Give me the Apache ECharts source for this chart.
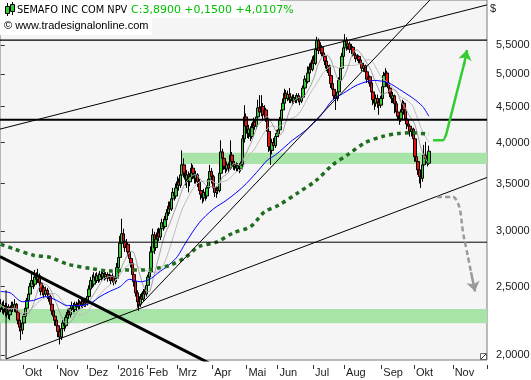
<!DOCTYPE html>
<html><head><meta charset="utf-8">
<script src="https://cdn.jsdelivr.net/npm/echarts@6/dist/echarts.min.js"></script>
<style>html,body{margin:0;padding:0;background:#fff}#c{width:531px;height:380px}</style>
</head><body><div id="c"></div>
<script>
// ---- data ----
const N = 314; // trading-day slots on the axis (incl. empty future)
const monthTicks = [[15,'Okt'],[37,'Nov'],[56,'Dez'],[76,'2016'],[95,'Feb'],[114,'Mrz'],[137,'Apr'],[159,'Mai'],[179,'Jun'],[202,'Jul'],[222,'Aug'],[246,'Sep'],[267,'Okt'],[292,'Nov']];
const priceTicks = [2.0,2.5,3.0,3.5,4.0,4.5,5.0,5.5];
const priceTickLabels = ['2,0000','2,5000','3,0000','3,5000','4,0000','4,5000','5,0000','5,5000'];
const yRange = [1.9675, 6.371];

const opens = [
2.33,2.36,2.32,2.35,2.30,2.34,2.28,2.31,2.35,2.33,
2.36,2.30,2.24,2.19,2.17,2.22,2.27,2.33,2.39,2.44,
2.50,2.55,2.52,2.58,2.56,2.59,2.53,2.46,2.49,2.44,
2.47,2.44,2.42,2.36,2.31,2.27,2.24,2.20,2.16,2.12,
2.18,2.22,2.20,2.26,2.30,2.28,2.33,2.35,2.32,2.36,
2.34,2.37,2.35,2.38,2.36,2.39,2.37,2.42,2.48,2.55,
2.52,2.58,2.55,2.59,2.56,2.60,2.58,2.61,2.58,2.60,
2.57,2.59,2.55,2.58,2.54,2.57,2.66,2.75,2.88,2.97,
2.90,2.84,2.87,2.80,2.74,2.70,2.60,2.54,2.45,2.38,
2.36,2.42,2.40,2.46,2.44,2.51,2.58,2.62,2.80,2.96,
2.84,2.92,2.98,2.94,3.02,3.08,3.04,3.11,3.18,3.25,
3.22,3.33,3.40,3.36,3.45,3.52,3.48,3.60,3.72,3.62,
3.55,3.60,3.52,3.58,3.68,3.62,3.56,3.60,3.52,3.42,
3.38,3.34,3.40,3.36,3.45,3.55,3.64,3.58,3.45,3.40,
3.44,3.42,3.62,3.88,3.80,3.70,3.67,3.72,3.68,3.84,
3.76,3.70,3.72,3.68,3.71,3.67,3.72,4.05,4.35,4.22,
4.12,4.18,4.08,4.20,4.28,4.22,4.35,4.48,4.42,4.50,
4.38,4.45,4.33,4.15,3.95,3.90,4.00,3.96,4.08,4.12,
4.17,4.30,4.45,4.55,4.70,4.62,4.68,4.60,4.64,4.58,
4.63,4.60,4.66,4.62,4.58,4.64,4.78,4.92,4.88,5.02,
5.12,5.08,5.24,5.18,5.42,5.58,5.40,5.46,5.36,5.30,
5.22,5.10,5.14,4.98,4.85,4.76,4.66,4.62,4.72,4.90,
5.10,5.30,5.45,5.58,5.48,5.52,5.42,5.46,5.36,5.32,
5.26,5.30,5.24,5.18,5.10,5.14,5.04,4.92,4.96,4.86,
4.72,4.60,4.55,4.62,4.56,4.52,4.62,4.80,4.98,5.02,
4.86,4.78,4.70,4.62,4.66,4.54,4.42,4.36,4.32,4.42,
4.55,4.45,4.32,4.25,4.22,4.15,4.18,4.05,3.82,3.76,
3.66,3.58,3.56,3.72,3.84,3.80,3.74];
const closes = [
2.36,2.32,2.35,2.30,2.34,2.28,2.31,2.35,2.33,2.36,
2.30,2.24,2.19,2.17,2.22,2.27,2.33,2.39,2.44,2.50,
2.55,2.52,2.58,2.56,2.59,2.53,2.46,2.49,2.44,2.47,
2.44,2.42,2.36,2.31,2.27,2.24,2.20,2.16,2.12,2.18,
2.22,2.20,2.26,2.30,2.28,2.33,2.35,2.32,2.36,2.34,
2.37,2.35,2.38,2.36,2.39,2.37,2.42,2.48,2.55,2.52,
2.58,2.55,2.59,2.56,2.60,2.58,2.61,2.58,2.60,2.57,
2.59,2.55,2.58,2.54,2.57,2.66,2.75,2.88,2.97,2.90,
2.84,2.87,2.80,2.74,2.70,2.60,2.54,2.45,2.38,2.36,
2.42,2.40,2.46,2.44,2.51,2.58,2.62,2.80,2.96,2.84,
2.92,2.98,2.94,3.02,3.08,3.04,3.11,3.18,3.25,3.22,
3.33,3.40,3.36,3.45,3.52,3.48,3.60,3.72,3.62,3.55,
3.60,3.52,3.58,3.68,3.62,3.56,3.60,3.52,3.42,3.38,
3.34,3.40,3.36,3.45,3.55,3.64,3.58,3.45,3.40,3.44,
3.42,3.62,3.88,3.80,3.70,3.67,3.72,3.68,3.84,3.76,
3.70,3.72,3.68,3.71,3.67,3.72,4.05,4.35,4.22,4.12,
4.18,4.08,4.20,4.28,4.22,4.35,4.48,4.42,4.50,4.38,
4.45,4.33,4.15,3.95,3.90,4.00,3.96,4.08,4.12,4.17,
4.30,4.45,4.55,4.70,4.62,4.68,4.60,4.64,4.58,4.63,
4.60,4.66,4.62,4.58,4.64,4.78,4.92,4.88,5.02,5.12,
5.08,5.24,5.18,5.42,5.58,5.40,5.46,5.36,5.30,5.22,
5.10,5.14,4.98,4.85,4.76,4.66,4.62,4.72,4.90,5.10,
5.30,5.45,5.58,5.48,5.52,5.42,5.46,5.36,5.32,5.26,
5.30,5.24,5.18,5.10,5.14,5.04,4.92,4.96,4.86,4.72,
4.60,4.55,4.62,4.56,4.52,4.62,4.80,4.98,5.02,4.86,
4.78,4.70,4.62,4.66,4.54,4.42,4.36,4.32,4.42,4.55,
4.45,4.32,4.25,4.22,4.15,4.18,4.05,3.82,3.76,3.66,
3.58,3.56,3.72,3.84,3.80,3.74,3.89];
const lows = [
2.30,2.29,2.28,2.27,2.26,2.25,2.24,2.28,2.30,2.30,
2.27,2.21,2.16,2.10,2.14,2.19,2.25,2.31,2.36,2.41,
2.47,2.48,2.50,2.52,2.53,2.50,2.43,2.43,2.41,2.42,
2.40,2.38,2.33,2.28,2.24,2.20,2.17,2.12,2.07,2.10,
2.15,2.16,2.18,2.23,2.25,2.26,2.30,2.29,2.30,2.31,
2.32,2.32,2.33,2.33,2.34,2.34,2.35,2.40,2.46,2.49,
2.50,2.52,2.53,2.53,2.54,2.55,2.56,2.55,2.56,2.54,
2.55,2.52,2.53,2.51,2.52,2.55,2.63,2.72,2.84,2.86,
2.80,2.81,2.76,2.70,2.66,2.57,2.50,2.42,2.34,2.31,
2.34,2.37,2.38,2.41,2.42,2.49,2.55,2.60,2.77,2.78,
2.81,2.88,2.90,2.91,2.98,3.00,3.02,3.08,3.15,3.17,
3.20,3.29,3.31,3.33,3.40,3.42,3.45,3.56,3.57,3.48,
3.45,3.40,3.47,3.52,3.55,3.50,3.50,3.46,3.38,3.32,
3.28,3.30,3.31,3.33,3.42,3.51,3.50,3.40,3.35,3.34,
3.38,3.40,3.58,3.72,3.66,3.62,3.64,3.63,3.66,3.70,
3.66,3.65,3.64,3.64,3.62,3.64,3.70,4.00,4.15,4.06,
4.05,4.02,4.05,4.15,4.17,4.18,4.30,4.36,4.36,4.32,
4.31,4.28,4.10,3.88,3.72,3.85,3.90,3.93,4.03,4.07,
4.12,4.25,4.40,4.52,4.55,4.58,4.55,4.55,4.52,4.54,
4.55,4.55,4.56,4.52,4.55,4.60,4.74,4.82,4.85,4.97,
5.02,5.05,5.10,5.15,5.35,5.34,5.34,5.30,5.24,5.15,
5.05,5.02,4.92,4.78,4.70,4.60,4.45,4.58,4.68,4.85,
5.05,5.22,5.40,5.40,5.42,5.36,5.34,5.30,5.26,5.20,
5.22,5.18,5.12,5.05,5.04,4.98,4.86,4.85,4.80,4.65,
4.52,4.45,4.50,4.48,4.38,4.48,4.58,4.75,4.92,4.80,
4.70,4.64,4.55,4.55,4.40,4.36,4.30,4.24,4.28,4.38,
4.38,4.26,4.18,4.16,4.08,4.08,3.98,3.76,3.70,3.60,
3.50,3.45,3.52,3.68,3.74,3.70,3.72];
const highs = [
2.40,2.38,2.39,2.37,2.37,2.36,2.34,2.38,2.38,2.40,
2.37,2.31,2.25,2.22,2.24,2.29,2.35,2.41,2.47,2.53,
2.62,2.58,2.64,2.62,2.65,2.61,2.55,2.52,2.51,2.50,
2.49,2.47,2.43,2.38,2.33,2.29,2.26,2.22,2.19,2.20,
2.24,2.25,2.28,2.32,2.33,2.35,2.38,2.37,2.38,2.38,
2.40,2.39,2.40,2.40,2.41,2.41,2.44,2.51,2.58,2.60,
2.62,2.61,2.62,2.61,2.63,2.63,2.64,2.63,2.62,2.62,
2.61,2.60,2.61,2.59,2.59,2.70,2.80,2.95,3.12,3.02,
2.94,2.92,2.89,2.82,2.76,2.72,2.63,2.56,2.47,2.41,
2.44,2.45,2.48,2.49,2.53,2.60,2.65,2.85,3.02,2.99,
2.96,3.02,3.03,3.06,3.12,3.12,3.15,3.22,3.30,3.30,
3.38,3.45,3.44,3.50,3.58,3.56,3.66,3.90,3.80,3.66,
3.66,3.64,3.62,3.74,3.72,3.66,3.65,3.62,3.55,3.46,
3.42,3.44,3.43,3.48,3.58,3.72,3.68,3.60,3.48,3.47,
3.46,3.68,4.03,3.92,3.82,3.74,3.76,3.75,4.03,3.88,
3.78,3.76,3.75,3.74,3.74,3.76,4.10,4.52,4.40,4.28,
4.24,4.22,4.26,4.34,4.32,4.42,4.60,4.67,4.67,4.55,
4.52,4.48,4.36,4.18,4.00,4.05,4.06,4.12,4.17,4.22,
4.35,4.50,4.62,4.77,4.75,4.74,4.78,4.70,4.68,4.68,
4.67,4.70,4.70,4.66,4.68,4.82,4.98,4.98,5.13,5.18,
5.20,5.30,5.32,5.50,5.65,5.62,5.55,5.50,5.40,5.34,
5.26,5.20,5.16,5.02,4.90,4.82,4.72,4.78,4.95,5.15,
5.36,5.50,5.70,5.64,5.60,5.56,5.52,5.48,5.42,5.35,
5.34,5.32,5.28,5.22,5.18,5.16,5.06,5.00,4.98,4.90,
4.76,4.66,4.68,4.68,4.62,4.66,4.84,5.04,5.10,5.06,
4.92,4.82,4.75,4.72,4.68,4.58,4.48,4.40,4.46,4.60,
4.58,4.48,4.36,4.30,4.25,4.22,4.20,4.08,3.86,3.80,
3.70,3.64,3.76,3.97,4.01,3.86,3.96];

// moving averages (day slot, price)
const ma50Idx = [0,6,14,21,29,36,43,51,58,64,70,77,83,90,96,101,109,114,119,128,137,146,156,165,172,177,188,197,206,214,221,230,241,250,257,266,272,276];
const ma50Val = [2.46,2.45,2.38,2.39,2.42,2.39,2.35,2.35,2.37,2.42,2.46,2.50,2.56,2.54,2.56,2.61,2.69,2.76,2.88,3.08,3.22,3.32,3.46,3.63,3.78,3.84,4.03,4.17,4.36,4.60,4.70,4.83,4.90,4.86,4.76,4.62,4.50,4.36];
const ma200Idx = [0,8,21,32,43,59,70,83,93,103,109,119,128,139,150,161,170,179,192,203,214,224,235,246,256,265,276];
const ma200Val = [2.87,2.83,2.77,2.75,2.69,2.65,2.63,2.64,2.64,2.66,2.68,2.75,2.85,2.89,2.98,3.04,3.19,3.26,3.40,3.53,3.72,3.85,4.00,4.08,4.12,4.13,4.11];

// horizontal levels and zones
const hLevels = [5.59, 4.31, 2.89];
const zoneUpper = {from: 116.8, lo: 3.73, hi: 3.87};
const zoneLower = {lo: 2.218, hi: 2.324};

// drawn trend lines (day slot, price)
const trendUpper = [[-0.5, 4.18], [313.5, 6.27]];
const trendLower = [[3.4, 1.974], [313.5, 3.57]];
const trendVert = [[3.4, 2.47], [3.4, 1.974]];
const trendDown = [[-0.5, 2.758], [141.3, 1.913]];
const trendSteep = [[87.8, 2.328], [276.7, 6.371]];

// scenario arrows
const arrowUpPath = [[278.7, 4.03], [285.1, 4.03], [287.0, 4.10], [288.3, 4.20], [299.0, 5.20]];
const arrowUpHead = [[298.6, 5.15], [300.6, 5.41]];
const arrowDownPath = [[281.3, 3.35], [291.6, 3.35], [294.2, 3.30], [296.1, 3.21], [298.0, 2.99], [300.0, 2.84], [301.9, 2.71], [303.2, 2.62]];
const arrowDownHead = [[303.2, 2.62], [305.8, 2.46]];

// ---- build ----
const L = Math.log;
const P = (pts) => pts.map(p => [p[0], L(p[1])]);
const cats = Array.from({length: N}, (_, i) => 'd' + i);
const tickSet = new Set(monthTicks.map(m => m[0]));
const labelMap = {}; monthTicks.forEach(m => labelMap[m[0]] = m[1]);
const candles = closes.map((c, i) => [L(opens[i]), L(c), L(lows[i]), L(highs[i])]);
function sma(arr, n) {
  return arr.map((_, i) => { const s = Math.max(0, i - n + 1); let t = 0; for (let k = s; k <= i; k++) t += arr[k]; return L(t / (i - s + 1)); });
}
const FONT = 'Liberation Sans';
const thinLine = (data, color, width, z, extra) => Object.assign({
  type: 'line', xAxisIndex: 1, yAxisIndex: 0, data: P(data), showSymbol: false, symbol: 'none', silent: true,
  lineStyle: {color: color, width: width}, z: z, animation: false
}, extra || {});
// arrow head drawn as a markLine end symbol on a line series
const headSeries = (pts, color) => ({
  type: 'line', xAxisIndex: 1, yAxisIndex: 0, data: [], silent: true, z: 5,
  markLine: { silent: true, symbol: ['none', 'arrow'], symbolSize: 10, label: {show: false},
    lineStyle: {color: color, width: 2.5, type: 'solid'},
    data: [[{coord: [pts[0][0], L(pts[0][1])]}, {coord: [pts[1][0], L(pts[1][1])]}]] }
});

const series = [
  { type: 'line', xAxisIndex: 1, data: [[0, L(3.8)]], showSymbol: false, symbol: 'none', silent: true, z: 1,
    lineStyle: {opacity: 0},
    markArea: { silent: true, itemStyle: {color: '#a8e4a8'}, label: {show: false},
      data: [
        [{xAxis: zoneUpper.from, yAxis: L(zoneUpper.hi)}, {xAxis: N - 0.5, yAxis: L(zoneUpper.lo)}],
        [{xAxis: -0.5, yAxis: L(zoneLower.hi)}, {xAxis: N - 0.5, yAxis: L(zoneLower.lo)}]
      ] } },
  { type: 'candlestick', xAxisIndex: 0, data: candles, barWidth: 3, z: 2, silent: true,
    itemStyle: {color: '#33cc33', color0: '#ee1111', borderColor: '#000', borderColor0: '#000', borderWidth: 1} },
  { type: 'line', xAxisIndex: 0, data: sma(closes, 20), showSymbol: false, symbol: 'none', silent: true, z: 3,
    lineStyle: {color: '#bdbdbd', width: 1} },
  { type: 'line', xAxisIndex: 0, data: sma(closes, 10), showSymbol: false, symbol: 'none', silent: true, z: 3,
    lineStyle: {color: '#a0a0a0', width: 1} },
  { type: 'line', xAxisIndex: 1, data: ma50Idx.map((x, k) => [x, L(ma50Val[k])]), smooth: 0.3, showSymbol: false, symbol: 'none', silent: true, z: 3,
    lineStyle: {color: '#0000ff', width: 1} },
  { type: 'line', xAxisIndex: 1, data: ma200Idx.map((x, k) => [x, L(ma200Val[k])]), smooth: 0.3, showSymbol: false, symbol: 'none', silent: true, z: 3,
    lineStyle: {color: '#1f6e1f', width: 3.5, type: [4, 4]} },
  thinLine([[-0.5, hLevels[0]], [N - 0.5, hLevels[0]]], '#000', 1.3, 4),
  thinLine([[-0.5, hLevels[1]], [N - 0.5, hLevels[1]]], '#000', 2.2, 4),
  thinLine([[-0.5, hLevels[2]], [N - 0.5, hLevels[2]]], '#000', 1, 4),
  thinLine(trendUpper, '#000', 1, 4),
  thinLine(trendLower, '#000', 1, 4),
  thinLine(trendVert, '#000', 1, 4),
  thinLine(trendDown, '#000', 3, 4),
  thinLine(trendSteep, '#000', 1, 4),
  thinLine(arrowUpPath, '#33cc33', 2.5, 5, {smooth: 0.2}),
  headSeries(arrowUpHead, '#33cc33'),
  thinLine(arrowDownPath, '#9a9a9a', 2.5, 5, {smooth: 0.4, lineStyle: {color: '#9a9a9a', width: 2.5, type: [5, 3]}}),
  headSeries(arrowDownHead, '#9a9a9a')
];

const header = [
  {type: 'rect', z: 100, shape: {x: 0, y: 0, width: 280, height: 18}, style: {fill: '#ffffff'}},
  {type: 'rect', z: 100, shape: {x: 0, y: 18, width: 152, height: 17}, style: {fill: '#ffffff'}},
  {type: 'line', z: 101, shape: {x1: 7.5, y1: 3, x2: 7.5, y2: 16}, style: {stroke: '#000', lineWidth: 1}},
  {type: 'rect', z: 102, shape: {x: 5.5, y: 6.5, width: 4, height: 7}, style: {fill: '#33cc33', stroke: '#000', lineWidth: 1}},
  {type: 'line', z: 101, shape: {x1: 12.5, y1: 2, x2: 12.5, y2: 15}, style: {stroke: '#000', lineWidth: 1}},
  {type: 'rect', z: 102, shape: {x: 10.5, y: 4.5, width: 4, height: 7}, style: {fill: '#33cc33', stroke: '#000', lineWidth: 1}},
  {type: 'text', z: 103, x: 17, y: 10, style: {text: 'SEMAFO INC COM NPV', font: '9.8px "DejaVu Sans"', fill: '#000', verticalAlign: 'middle'}},
  {type: 'text', z: 103, x: 131, y: 10, style: {text: 'C:3,8900 +0,1500 +4,0107%', font: '11px "DejaVu Sans"', fill: '#00c000', verticalAlign: 'middle'}},
  {type: 'text', z: 103, x: 4, y: 26, style: {text: '\u00a9 www.tradesignalonline.com', font: '11px "Liberation Sans"', fill: '#000', verticalAlign: 'middle'}},
  {type: 'text', z: 103, x: 490, y: 9, style: {text: '$', font: '11px "Liberation Sans"', fill: '#222', verticalAlign: 'middle'}},
  {type: 'rect', z: 103, shape: {x: 480.5, y: 353.5, width: 6, height: 6}, style: {fill: '#fff', stroke: '#666', lineWidth: 1}},
  {type: 'line', z: 104, shape: {x1: 481, y1: 359, x2: 486, y2: 354}, style: {stroke: '#333', lineWidth: 1}}
];

const option = {
  animation: false,
  backgroundColor: '#ffffff',
  grid: {left: 0, right: 44, top: 0, bottom: 20, show: true, backgroundColor: '#f5f5f5', borderColor: '#7a7a7a', borderWidth: 1},
  xAxis: [
    { type: 'category', data: cats, boundaryGap: true, offset: 5,
      axisLine: {show: false},
      axisTick: {show: true, interval: (i) => tickSet.has(i), length: 4, lineStyle: {color: '#333'}},
      axisLabel: {interval: (i) => tickSet.has(i), formatter: (v, i) => labelMap[i] || '', align: 'left', margin: 2,
        padding: [0, 0, 0, 1], color: '#1a1a1a', fontFamily: FONT, fontSize: 11},
      splitLine: {show: false} },
    { type: 'value', min: -0.5, max: N - 0.5, show: false }
  ],
  yAxis: {
    type: 'value', position: 'right', min: L(yRange[0]), max: L(yRange[1]),
    axisLine: {show: false}, splitLine: {show: false},
    axisTick: {show: true, length: 4, lineStyle: {color: '#333'}, customValues: priceTicks.map(L)},
    axisLabel: {show: false}
  },
  graphic: header,
  series: series
};
const chart = echarts.init(document.getElementById('c'), null, {renderer: 'canvas'});
chart.setOption(option);
// price labels positioned through the chart's own y scale, on their own top layer
const yLabels = priceTicks.map((p, k) => {
  const pt = chart.convertToPixel({xAxisIndex: 1, yAxisIndex: 0}, [N - 0.5, L(p)]);
  return {type: 'text', zlevel: 3, z: 200, x: pt[0] + 9, y: pt[1],
    style: {text: priceTickLabels[k], font: '11px "Liberation Sans"', fill: '#1a1a1a', verticalAlign: 'middle', align: 'left'}};
});
chart.setOption({graphic: header.concat(yLabels)});
</script>
</body></html>
